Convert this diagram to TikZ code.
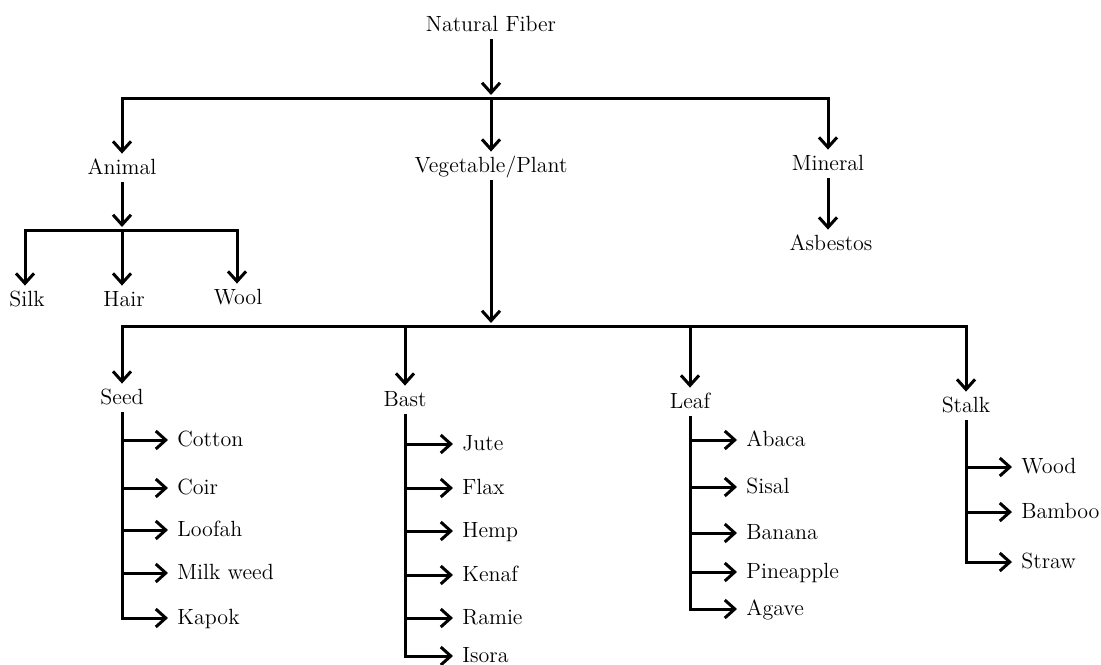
\documentclass[tikz,border=0pt]{standalone}
\usepackage{tikz}
\usetikzlibrary{arrows.meta, positioning}
\tikzset{%
	every label node/.style={
		font=\fontsize{11}{13}\selectfont,
		text height=8pt,
		text depth=2pt,
		inner sep=2pt
	},
	fiber/.style={
		every label node,
		anchor=west,
		inner xsep=4.5pt
	},
	branch/.style={
		line width=1.5pt,
		line join=miter
	},
	arr/.style={
		branch,
		-{Straight Barb[length=5pt,width=9pt]}
	},
}

\begin{document}
\begin{tikzpicture}[x=0.5pt,y=-0.5pt]
			\useasboundingbox (0,0) rectangle (1101,664);
			\tikzstyle{cat}=[every label node]
			
			% top of the tree
			\node[cat](nf) at (491,25){Natural Fiber};
			\coordinate (b1) at (491,98);
			
			\node[cat](an) at (122,168){Animal};
			\node[cat](vp) at (491,166){Vegetable/Plant};
			\node[cat](mn) at (828,164){Mineral};
			\node[cat](asb) at (831,244){Asbestos};
			
			\draw[arr,shorten >=1.5pt] (nf) -- (b1);
			\draw[arr] (b1) -| (an);
			\draw[arr] (b1) -- (vp);
			\draw[arr] (b1) -| (mn);
			\draw[arr] (mn) -- (mn |- asb.north);
			
			% animal
			\coordinate (b2) at (122,230);
			\node[cat](silk) at (27,300){Silk};
			\node[cat](hair) at (124,300){Hair};
			\node[cat](wool) at (238,298){Wool};
			
			\draw[arr,shorten >=1.5pt] (an) -- (b2);
			\draw[arr] (b2) -| (silk.north -| 25,0);
			\draw[arr] (b2) -- (b2 |- hair.north);
			\draw[arr] (b2) -| (wool.north -| 237,0);
			
			% vegetable / plant
			\coordinate (b3) at (491,326);
			\node[cat](sd) at (122,398){Seed};
			\node[cat](bs) at (405,400){Bast};
			\node[cat](lf) at (690,402){Leaf};
			\node[cat](st) at (966,406){Stalk};
			
			\draw[arr,shorten >=1.5pt] (vp) -- (b3);
			\draw[arr] (b3) -| (sd);
			\draw[arr] (b3) -| (bs);
			\draw[arr] (b3) -| (lf);
			\draw[arr] (b3) -| (st);
			
			% seed
			\node[fiber](cotton) at (168,440){Cotton};
			\node[fiber](coir) at (168,488){Coir};
			\node[fiber](loofah) at (168,530){Loofah};
			\node[fiber](milk) at (168,573){Milk weed};
			\node[fiber](kapok) at (168,618){Kapok};
			\draw[arr] (sd.south) |- (kapok);
			\draw[arr] (sd.south |- cotton) -- (cotton);
			\draw[arr] (sd.south |- coir) -- (coir);
			\draw[arr] (sd.south |- loofah) -- (loofah);
			\draw[arr] (sd.south |- milk) -- (milk);
			
			% bast
			\node[fiber](jute) at (453,444){Jute};
			\node[fiber](flax) at (453,488){Flax};
			\node[fiber](hemp) at (453,531){Hemp};
			\node[fiber](kenaf) at (453,575){Kenaf};
			\node[fiber](ramie) at (453,618){Ramie};
			\node[fiber](isora) at (453,656){Isora};
			\draw[arr] (bs.south) |- (isora);
			\draw[arr] (bs.south |- jute) -- (jute);
			\draw[arr] (bs.south |- flax) -- (flax);
			\draw[arr] (bs.south |- hemp) -- (hemp);
			\draw[arr] (bs.south |- kenaf) -- (kenaf);
			\draw[arr] (bs.south |- ramie) -- (ramie);
			
			% leaf
			\node[fiber](abaca) at (737,440){Abaca};
			\node[fiber](sisal) at (737,487){Sisal};
			\node[fiber](banana) at (737,533){Banana};
			\node[fiber](pine) at (737,572){Pineapple};
			\node[fiber](agave) at (737,609){Agave};
			\draw[arr] (lf.south) |- (agave);
			\draw[arr] (lf.south |- abaca) -- (abaca);
			\draw[arr] (lf.south |- sisal) -- (sisal);
			\draw[arr] (lf.south |- banana) -- (banana);
			\draw[arr] (lf.south |- pine) -- (pine);
			
			% stalk
			\node[fiber](wood) at (1012,467){Wood};
			\node[fiber](bamboo) at (1012,512){Bamboo};
			\node[fiber](straw) at (1012,562){Straw};
			\draw[arr] (st.south) |- (straw);
			\draw[arr] (st.south |- wood) -- (wood);
			\draw[arr] (st.south |- bamboo) -- (bamboo);
		\end{tikzpicture}
\end{document}
